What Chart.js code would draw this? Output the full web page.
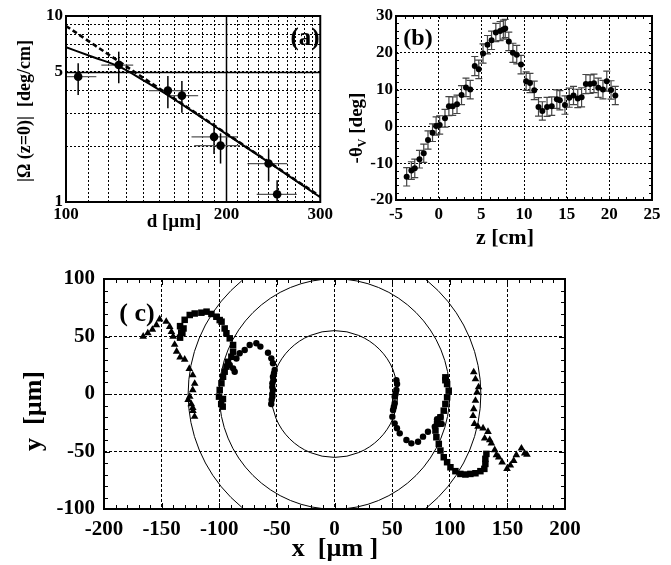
<!DOCTYPE html>
<html>
<head>
<meta charset="utf-8">
<script src="https://cdn.jsdelivr.net/npm/chart.js@4"></script>
<style>
body{margin:0;background:#fff;width:671px;height:565px;position:relative;overflow:hidden}
canvas{position:absolute}
</style>
</head>
<body>
<canvas id="ca" width="335" height="250" style="left:0;top:0"></canvas>
<canvas id="cb" width="336" height="250" style="left:335px;top:0"></canvas>
<canvas id="cc" width="671" height="310" style="left:0;top:255px"></canvas>
<script>
// ---- panel (a): |Omega(z=0)| vs d, log-log
const dA    = [105.4, 125.6, 155.3, 165, 189.6, 195, 240, 249];
const dLoA  = [100, 116.5, 143, 156, 172, 174, 219, 228];
const dHiA  = [114, 133.7, 168.7, 177, 210, 212, 260, 271];
const omA   = [4.72, 5.45, 3.97, 3.73, 2.24, 2.01, 1.61, 1.10];
const omLoA = [3.76, 4.35, 3.19, 3.02, 1.81, 1.61, 1.29, 1.0];
const omHiA = [5.57, 6.43, 4.76, 4.47, 2.67, 2.34, 1.92, 1.31];
const fitD  = [100, 113, 126, 140, 156, 199, 239, 300];
const fitOm = [6.79, 5.98, 5.34, 4.49, 3.72, 2.34, 1.65, 1.06];
const dashD  = [100, 300];
const dashOm = [8.84, 1.07];
const ticksDA  = [100,110,120,130,140,150,160,170,180,190,200,210,220,230,240,250,260,270,280,290,300];
const labelsDA = [100, 200, 300];
const ticksOmA  = [1,2,3,4,5,6,7,8,9,10];
const labelsOmA = [1, 5, 10];

// ---- panel (b): -theta_V vs z
const zB  = [-3.75,-3.2,-2.8,-2.25,-1.75,-1.25,-0.72,-0.3,0.12,0.74,1.2,1.65,2.15,2.68,3.2,3.7,4.23,4.7,5.2,5.72,6.2,6.7,7.2,7.58,7.8,8.22,8.7,9.15,9.65,10.25,10.7,11.2,11.7,12.15,12.7,13.25,13.85,14.2,14.8,15.3,15.8,16.3,16.75,17.25,17.75,18.2,18.7,19.25,19.7,20.2,20.7];
const thB = [-13.7,-12,-11.4,-8.9,-7.3,-3.7,-1.7,0.1,0.4,2.2,5.5,5.5,6,8.5,10.6,10,16.4,15.5,19.8,22.2,23.4,25.5,25.9,26.3,26.6,23.1,20,19.5,16.8,12.3,11.8,9.8,5.3,4.2,5.3,5.5,7.4,7.1,5.8,7.8,8.4,7.6,7.9,11.5,11.5,11.7,10.5,10,12.3,9.9,8.4];
const errB = [2.5,2.4,2.5,2.4,2.5,2.5,2.4,2.5,2.5,2.4,2.6,2.5,2.5,2.6,2.5,2.5,2.6,2.5,2.6,2.5,2.5,2.5,2.6,2.6,2.5,2.5,2.6,2.5,2.5,2.5,2.6,2.5,2.5,2.5,2.6,2.5,2.5,2.6,2.5,2.6,2.5,2.5,2.6,2.6,2.5,2.5,2.6,2.5,2.7,2.5,2.5];

// ---- panel (c): trajectories in the x-y plane
const ringR = [55, 100, 127];
const cxC = [-90.9,-88,-86.6,-85.1,-82.3,-77.9,-73.6,-67.8,-64.3,-57.7,-54.8,-53.4,-51.9,-52.5,-53.4,-53,-53.9,-54,-53.4,-54,-53.9,-54.5,-54.9,
             53.7,54.3,53.7,53,52.2,52.2,51.5,50.8,50.2,52.2,54.2,56.6,62.4,66.7,72.5,76.8,81.1,87,89,92,90,93];
const cyC = [25.2,22.3,19.4,30.9,35.4,38.3,42.6,44.1,41.2,35.9,31,26.7,20.9,18,15,12,9.3,6,3.5,0,-2.3,-5,-8.7,
             12,8.7,3.5,0.5,-2.3,-8.1,-11,-13.9,-19.7,-25.5,-29.8,-34.2,-40,-42.9,-41.5,-37.1,-32.8,-28.4,-22,-20,-25,-26];
const sxC = [-134,-133,-134,-132,-131,-130,-125.6,-121.3,-115.5,-111,-106.8,-102.5,-99.6,-98,-95.3,-93.8,-90.9,-88,-88,-89.5,-92.4,-93.8,-95.3,-96.7,-98.1,-99.6,-100.2,-96.8,-98.3,-97,
             96.2,96.2,97.7,99.1,97.7,96.2,94.8,91.9,89,87.6,88.4,90.5,91.9,94.8,97.7,100.6,104.9,109.2,113.6,117.9,122.3,126.6,130,130.9,130.9,131.8];
const syC = [59,53.5,49,53,57,64.5,68.7,70,70.7,71.6,69.6,67.2,64.3,62.9,57,52.8,48.4,42.6,36.8,32.4,28,23.8,19.4,15,9.3,3.5,-2.3,-4.3,-8.7,-11,
             14.5,12,8.7,2.9,-2.9,-8.7,-14.5,-20.3,-26,-31.8,-37.6,-43.4,-49.2,-55,-59.3,-63.7,-67.1,-69.5,-70,-69.5,-68.9,-67.1,-65.1,-60.8,-56.4,-52.1];
const txC = [-166,-162,-158,-154.5,-151.7,-146,-143,-141.5,-140,-138.7,-137,-134,-130,-126,-123,-121.3,-123,-125.6,-127,-124.3,-123,-122.8,-121.4,
             120.8,122.3,125,123.7,122.3,120.8,120.2,121.4,124.5,128.9,133.2,130.3,134.7,136.1,139,140.5,142.5,145.4,149.7,152.6,155.5,157.8,162.2,165,167];
const tyC = [50,53,56,60,65,63,58.5,54,50,43,37,32,30,22,16.5,9,3.5,-2.3,-5,-8.7,-12,-14.5,-19.7,
             19,13,6,1.4,-5.8,-13,-19,-26,-28.4,-29.8,-32.8,-38.5,-40,-42.9,-48.7,-53,-55,-59.3,-65,-62,-58,-53,-47.2,-51.6,-52.7];

const FONT = '"Liberation Serif", "Times New Roman", serif';
function tickFont(sz){ return {family: FONT, size: sz, weight: 'bold'}; }
function txt(ctx, s, x, y, sz, rot){
  ctx.save();
  ctx.translate(x, y);
  if (rot) ctx.rotate(rot);
  ctx.font = 'bold ' + sz + 'px ' + FONT;
  ctx.fillStyle = '#000';
  ctx.textAlign = 'center';
  ctx.textBaseline = 'middle';
  ctx.fillText(s, 0, 0);
  ctx.restore();
}
function frame(ch){
  const {ctx, chartArea: a} = ch;
  ctx.save();
  ctx.strokeStyle = '#000';
  ctx.lineWidth = 2;
  ctx.strokeRect(a.left, a.top, a.right - a.left, a.bottom - a.top);
  ctx.restore();
}
function minorTicks(ch, xs, ys, len, majorEvery, majLen){
  const {ctx, chartArea: a, scales: {x, y}} = ch;
  ctx.save();
  ctx.strokeStyle = '#000';
  ctx.lineWidth = 1;
  ctx.beginPath();
  xs.forEach(v => {
    const p = Math.round(x.getPixelForValue(v)) + 0.5;
    const l = (majorEvery && v % majorEvery === 0) ? majLen : len;
    ctx.moveTo(p, a.top); ctx.lineTo(p, a.top + l);
    ctx.moveTo(p, a.bottom); ctx.lineTo(p, a.bottom - l);
  });
  ys.forEach(v => {
    const p = Math.round(y.getPixelForValue(v)) + 0.5;
    const l = (majorEvery && v % majorEvery === 0) ? majLen : len;
    ctx.moveTo(a.left, p); ctx.lineTo(a.left + l, p);
    ctx.moveTo(a.right, p); ctx.lineTo(a.right - l, p);
  });
  ctx.stroke();
  ctx.restore();
}
function range(a, b, s){ const r = []; for (let v = a; v <= b; v += s) r.push(v); return r; }

Chart.defaults.animation = false;
Chart.defaults.color = '#000';

const gridOpts = () => ({color: '#000', lineWidth: 1, drawTicks: false});

// ================= (a)
new Chart(document.getElementById('ca'), {
  type: 'scatter',
  data: {datasets: [
    {type: 'line', data: dashD.map((d, i) => ({x: d, y: dashOm[i]})), borderColor: '#000', borderWidth: 2.6, borderDash: [5, 3], pointRadius: 0, fill: false},
    {type: 'line', data: fitD.map((d, i) => ({x: d, y: fitOm[i]})), borderColor: '#000', borderWidth: 2, pointRadius: 0, fill: false, cubicInterpolationMode: 'monotone'},
    {data: dA.map((d, i) => ({x: d, y: omA[i]})), pointRadius: 4.3, backgroundColor: '#000', borderColor: '#000', borderWidth: 0}
  ]},
  options: {
    responsive: false, devicePixelRatio: 1,
    layout: {padding: {left: 0, right: 12, top: 16, bottom: 0}},
    plugins: {legend: {display: false}, tooltip: {enabled: false}},
    scales: {
      x: {type: 'logarithmic', min: 100, max: 300,
          afterBuildTicks: s => { s.ticks = ticksDA.map(v => ({value: v})); },
          afterFit: s => { s.height = 48; },
          ticks: {autoSkip: false, maxRotation: 0, padding: 2, font: tickFont(17),
                  callback: v => labelsDA.includes(v) ? String(v) : ''},
          grid: gridOpts(), border: {display: false, dash: [2, 2]}},
      y: {type: 'logarithmic', min: 1, max: 10,
          afterBuildTicks: s => { s.ticks = ticksOmA.map(v => ({value: v})); },
          afterFit: s => { s.width = 66; },
          ticks: {autoSkip: false, padding: 3, font: tickFont(17),
                  callback: v => labelsOmA.includes(v) ? String(v) : ''},
          grid: gridOpts(), border: {display: false, dash: [2, 2]}}
    }
  },
  plugins: [{
    id: 'decoA',
    beforeDatasetsDraw(ch){
      const {ctx, chartArea: a, scales: {x, y}} = ch;
      ctx.save();
      ctx.strokeStyle = '#000';
      ctx.lineWidth = 1.5;
      const px = Math.round(x.getPixelForValue(200)) + 0.5;
      const py = Math.round(y.getPixelForValue(5)) + 0.5;
      ctx.beginPath();
      ctx.moveTo(px, a.top); ctx.lineTo(px, a.bottom);
      ctx.moveTo(a.left, py); ctx.lineTo(a.right, py);
      ctx.stroke();
      // error bars
      dA.forEach((d, i) => {
        const cx = x.getPixelForValue(d), cy = y.getPixelForValue(omA[i]);
        ctx.strokeStyle = '#555'; ctx.lineWidth = 1.2;
        ctx.beginPath();
        ctx.moveTo(x.getPixelForValue(dLoA[i]), cy); ctx.lineTo(x.getPixelForValue(dHiA[i]), cy);
        ctx.stroke();
        ctx.strokeStyle = '#000'; ctx.lineWidth = 1.5;
        ctx.beginPath();
        ctx.moveTo(cx, y.getPixelForValue(omLoA[i])); ctx.lineTo(cx, y.getPixelForValue(omHiA[i]));
        ctx.stroke();
      });
      ctx.restore();
    },
    afterDraw(ch){
      frame(ch);
      txt(ch.ctx, '(a)', 305, 39, 25);
      txt(ch.ctx, 'd [\u00b5m]', 174, 222, 19);
      txt(ch.ctx, '|\u03a9 (z=0)|  [deg/cm]', 25, 111, 18, -Math.PI / 2);
    }
  }]
});

// ================= (b)
new Chart(document.getElementById('cb'), {
  type: 'scatter',
  data: {datasets: [
    {data: zB.map((z, i) => ({x: z, y: thB[i]})), pointRadius: 3, backgroundColor: '#000', borderColor: '#000', borderWidth: 0}
  ]},
  options: {
    responsive: false, devicePixelRatio: 1,
    layout: {padding: {left: 0, right: 19, top: 16, bottom: 0}},
    plugins: {legend: {display: false}, tooltip: {enabled: false}},
    scales: {
      x: {type: 'linear', min: -5, max: 25,
          afterFit: s => { s.height = 50; },
          ticks: {stepSize: 5, autoSkip: false, maxRotation: 0, padding: 4, font: tickFont(17)},
          grid: gridOpts(), border: {display: false, dash: [2, 2]}},
      y: {type: 'linear', min: -20, max: 30,
          afterFit: s => { s.width = 61; },
          ticks: {stepSize: 10, padding: 3, font: tickFont(17)},
          grid: gridOpts(), border: {display: false, dash: [2, 2]}}
    }
  },
  plugins: [{
    id: 'decoB',
    beforeDatasetsDraw(ch){
      const {ctx, scales: {x, y}} = ch;
      ctx.save();
      ctx.strokeStyle = '#444';
      ctx.lineWidth = 1.2;
      ctx.beginPath();
      zB.forEach((z, i) => {
        const cx = x.getPixelForValue(z);
        const t = y.getPixelForValue(thB[i] + errB[i]), b = y.getPixelForValue(thB[i] - errB[i]);
        ctx.moveTo(cx, t); ctx.lineTo(cx, b);
        ctx.moveTo(cx - 3.5, t); ctx.lineTo(cx + 3.5, t);
        ctx.moveTo(cx - 3.5, b); ctx.lineTo(cx + 3.5, b);
      });
      ctx.stroke();
      ctx.restore();
    },
    afterDraw(ch){
      const ctx = ch.ctx;
      minorTicks(ch, range(-5, 25, 1), range(-20, 30, 2), 3);
      frame(ch);
      txt(ctx, '(b)', 83, 39, 24);
      txt(ctx, 'z [cm]', 170, 238, 22);
      // rotated y title with subscript
      ctx.save();
      ctx.translate(22, 128);
      ctx.rotate(-Math.PI / 2);
      ctx.fillStyle = '#000';
      ctx.textBaseline = 'middle';
      const f1 = 'bold 19px ' + FONT, f2 = 'bold 12px ' + FONT;
      ctx.font = f1; const w1 = ctx.measureText('-\u03b8').width, w3 = ctx.measureText(' [deg]').width;
      ctx.font = f2; const w2 = ctx.measureText('V').width;
      let sx = -(w1 + w2 + w3) / 2;
      ctx.textAlign = 'left';
      ctx.font = f1; ctx.fillText('-\u03b8', sx, 0); sx += w1;
      ctx.font = f2; ctx.fillText('V', sx, 6); sx += w2;
      ctx.font = f1; ctx.fillText(' [deg]', sx, 0);
      ctx.restore();
    }
  }]
});

// ================= (c)
new Chart(document.getElementById('cc'), {
  type: 'scatter',
  data: {datasets: [
    {data: cxC.map((v, i) => ({x: v, y: cyC[i]})), pointStyle: 'circle', pointRadius: 3.2, backgroundColor: '#000', borderColor: '#000', borderWidth: 0},
    {data: sxC.map((v, i) => ({x: v, y: syC[i]})), pointStyle: 'rect', pointRadius: 4.6, backgroundColor: '#000', borderColor: '#000', borderWidth: 0},
    {data: txC.map((v, i) => ({x: v, y: tyC[i]})), pointStyle: 'triangle', pointRadius: 4.4, backgroundColor: '#000', borderColor: '#000', borderWidth: 0}
  ]},
  options: {
    responsive: false, devicePixelRatio: 1,
    layout: {padding: {left: 0, right: 106, top: 24, bottom: 0}},
    plugins: {legend: {display: false}, tooltip: {enabled: false}},
    scales: {
      x: {type: 'linear', min: -200, max: 200,
          afterFit: s => { s.height = 56; },
          ticks: {stepSize: 50, autoSkip: false, maxRotation: 0, padding: 8, font: tickFont(21)},
          grid: gridOpts(), border: {display: false, dash: [3, 2]}},
      y: {type: 'linear', min: -100, max: 100,
          afterFit: s => { s.width = 104; },
          ticks: {stepSize: 50, padding: 9, font: tickFont(21)},
          grid: gridOpts(), border: {display: false, dash: [3, 2]}}
    }
  },
  plugins: [{
    id: 'decoC',
    beforeDatasetsDraw(ch){
      const {ctx, chartArea: a, scales: {x, y}} = ch;
      ctx.save();
      ctx.beginPath();
      ctx.rect(a.left, a.top, a.right - a.left, a.bottom - a.top);
      ctx.clip();
      ctx.strokeStyle = '#000';
      ctx.lineWidth = 1;
      const ox = x.getPixelForValue(0), oy = y.getPixelForValue(0);
      ringR.forEach(r => {
        const rp = x.getPixelForValue(r) - ox;
        ctx.beginPath();
        ctx.arc(ox, oy, rp, 0, Math.PI * 2);
        ctx.stroke();
      });
      ctx.restore();
    },
    afterDraw(ch){
      const ctx = ch.ctx;
      minorTicks(ch, range(-190, 190, 10), range(-90, 90, 10), 4, 50, 6);
      frame(ch);
      txt(ctx, '( c)', 137, 59, 26);
      txt(ctx, 'x  [\u00b5m ]', 335, 294, 26);
      txt(ctx, 'y  [\u00b5m]', 34, 156, 26, -Math.PI / 2);
    }
  }]
});
</script>
</body>
</html>
